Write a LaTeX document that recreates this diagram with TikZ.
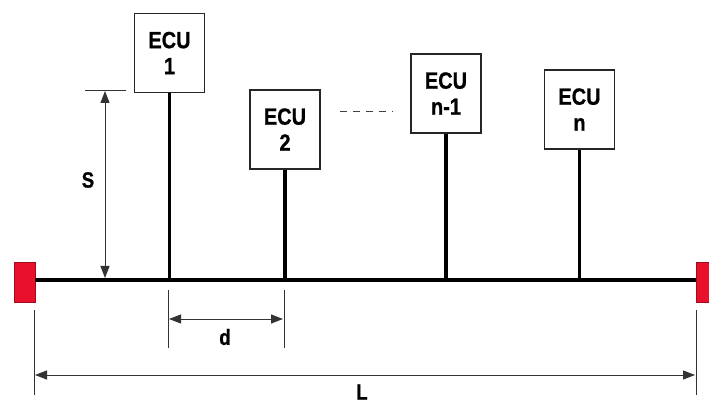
\documentclass[tikz,border=0pt]{standalone}
\usepackage{fontspec}
\setmainfont{Liberation Sans}
\newfontfamily\ecufont[FakeStretch=0.85,FakeBold=0.8]{Liberation Sans Bold}
\usetikzlibrary{arrows.meta}
\definecolor{termred}{HTML}{E8102A}
\begin{document}
\begin{tikzpicture}[x=1pt,y=-1pt,
  ecu/.style={draw=black!85, line width=1.6pt, fill=white, minimum width=70pt, minimum height=79pt, inner sep=0pt, align=center, font=\ecufont\fontsize{23.5}{26}\selectfont, yshift=-1pt},
  term/.style={draw=termred!70!black, line width=0.8pt, fill=termred, minimum width=21pt, minimum height=40pt, inner sep=0pt},
  busline/.style={line width=3.6pt, black},
  stub/.style={line width=3.6pt, black},
  dimline/.style={line width=1pt, black!80},
  dimarrow/.style={line width=1pt, black!80, {Triangle[length=12pt,width=9pt]}-{Triangle[length=12pt,width=9pt]}},
  lbl/.style={font=\ecufont\fontsize{22}{24}\selectfont, inner sep=0pt}
]
\useasboundingbox (0,0) rectangle (709,403);
% terminals
\node[term] (tl) at (24.5,282) {};
\node[term] (tr) at (706.5,282) {};
% bus
\draw[busline] (tl.east |- 0,280) coordinate (busL) -- (tr.west |- 0,280) coordinate (busR);
% ECUs
\node[ecu] (e1) at (169.5,52) {ECU\\1};
\node[ecu] (e2) at (285,128.5) {ECU\\2};
\node[ecu] (en1) at (446,92.5) {ECU\\n-1};
\node[ecu] (en) at (579.5,108.5) {ECU\\n};
\foreach \n in {e1,e2,en1,en} \draw[stub] (\n.south) -- (\n.south |- busL);
% dots
\coordinate (dotA) at (340,112);
\coordinate (dotB) at (393,112);
\draw[line width=1pt, black!75, dash pattern=on 7pt off 6pt] (dotA) -- (dotB);
% S dimension
\coordinate (sT1) at (85,91);
\coordinate (sT2) at (126,91);
\draw[dimline] (sT1) -- (sT2);
\coordinate (sA) at (105,91);
\coordinate (sB) at (105,278);
\draw[dimarrow] (sA) -- (sB);
\node[lbl] (S) at (88,180) {S};
% d dimension
\coordinate (d1t) at (168,290); \coordinate (d1b) at (168,348);
\coordinate (d2t) at (284,290); \coordinate (d2b) at (284,348);
\draw[dimline] (d1t) -- (d1b);
\draw[dimline] (d2t) -- (d2b);
\coordinate (dA) at (169,319); \coordinate (dB) at (283,319);
\draw[dimarrow] (dA) -- (dB);
\node[lbl] (d) at (225,337) {d};
% L dimension
\coordinate (L1t) at (34,310); \coordinate (L1b) at (34,395);
\coordinate (L2t) at (696,310); \coordinate (L2b) at (696,395);
\draw[dimline] (L1t) -- (L1b);
\draw[dimline] (L2t) -- (L2b);
\coordinate (LA) at (35,375); \coordinate (LB) at (695,375);
\draw[dimarrow] (LA) -- (LB);
\node[lbl] (L) at (362,392) {L};
\end{tikzpicture}
\end{document}
